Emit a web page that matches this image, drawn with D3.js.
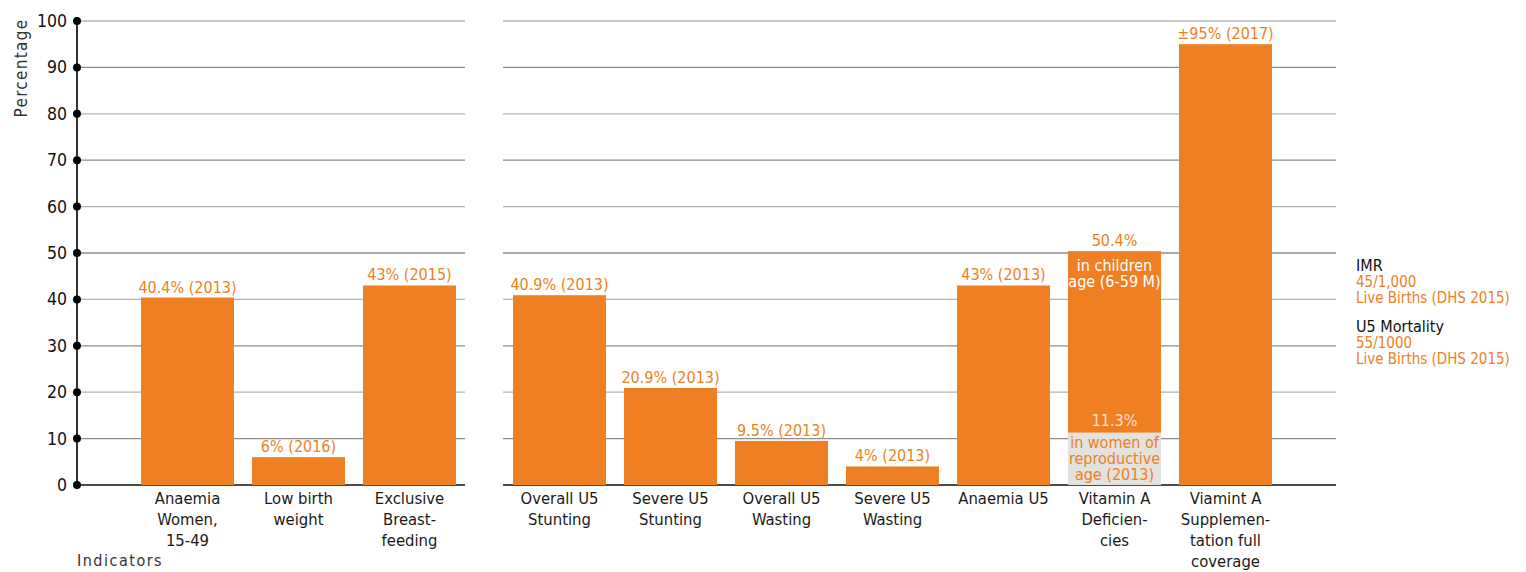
<!DOCTYPE html>
<html>
<head>
<meta charset="utf-8">
<script src="https://cdn.jsdelivr.net/npm/d3@7"></script>
<style>
  body { margin: 0; background: #fff; }
  text { font-family: "DejaVu Sans Condensed", "Liberation Sans Narrow", "Roboto", sans-serif; }
</style>
</head>
<body>
<script>
// women & infants panel
var groupA = ['Anaemia|Women,|15-49', 'Low birth|weight', 'Exclusive|Breast-|feeding'];
var valuesA = [40.4, 6, 43];
var labelsA = ['40.4% (2013)', '6% (2016)', '43% (2015)'];

// under five panel
var groupB = ['Overall U5|Stunting', 'Severe U5|Stunting', 'Overall U5|Wasting', 'Severe U5|Wasting',
  'Anaemia U5', 'Vitamin A|Deficien-|cies', 'Viamint A|Supplemen-|tation full|coverage'];
var valuesB = [40.9, 20.9, 9.5, 4, 43, 50.4, 95];
var labelsB = ['40.9% (2013)', '20.9% (2013)', '9.5% (2013)', '4% (2013)', '43% (2013)', '50.4%', '±95% (2017)'];

// vitamin A deficiency in women, stacked at the bottom of that bar
var vitAWomen = 11.3;

var yTicks = [0, 10, 20, 30, 40, 50, 60, 70, 80, 90, 100];

var notes = [
  {title: 'IMR', lines: ['45/1,000', 'Live Births (DHS 2015)']},
  {title: 'U5 Mortality', lines: ['55/1000', 'Live Births (DHS 2015)']}
];

var orange = '#ee7f22';

var svg = d3.select('body').append('svg')
    .attr('width', 1526)
    .attr('height', 572);

var y = d3.scaleLinear().domain([0, 100]).range([485, 21]);

var xA = d3.scaleBand().domain(groupA).range([132, 465]).paddingInner(0.162).paddingOuter(0.081);
var xB = d3.scaleBand().domain(groupB).range([504, 1281]).paddingInner(0.162).paddingOuter(0.081);

// gridlines
var panels = [[77, 465], [503, 1336]];
panels.forEach(function(p) {
  svg.append('g').selectAll('line').data(yTicks.slice(1)).enter().append('line')
      .attr('x1', p[0])
      .attr('x2', p[1])
      .attr('y1', function(d) { return y(d); })
      .attr('y2', function(d) { return y(d); })
      .attr('stroke', function(d) { return d % 20 ? '#8c8c8c' : '#b4b4b4'; })
      .attr('stroke-width', 1.3);
  svg.append('line')
      .attr('x1', p[0])
      .attr('x2', p[1])
      .attr('y1', y(0))
      .attr('y2', y(0))
      .attr('stroke', '#111')
      .attr('stroke-width', 1.6);
});

function drawBars(scale, cats, vals, labs) {
  var g = svg.append('g');
  g.selectAll('rect').data(cats).enter().append('rect')
      .attr('x', function(d) { return scale(d); })
      .attr('y', function(d, i) { return y(vals[i]); })
      .attr('width', scale.bandwidth())
      .attr('height', function(d, i) { return y(0) - y(vals[i]); })
      .attr('fill', orange);

  g.selectAll('text.val').data(cats).enter().append('text')
      .attr('class', 'val')
      .attr('x', function(d) { return scale(d) + scale.bandwidth() / 2; })
      .attr('y', function(d, i) { return y(vals[i]) - 5; })
      .attr('text-anchor', 'middle')
      .attr('fill', orange)
      .style('font-size', '16px')
      .text(function(d, i) { return labs[i]; });

  cats.forEach(function(c) {
    var t = g.append('text')
        .attr('x', scale(c) + scale.bandwidth() / 2)
        .attr('y', 504)
        .attr('text-anchor', 'middle')
        .attr('fill', '#1a1a1a')
        .style('font-size', '16.5px');
    c.split('|').forEach(function(s, k) {
      t.append('tspan')
          .attr('x', scale(c) + scale.bandwidth() / 2)
          .attr('dy', k ? 21 : 0)
          .text(s);
    });
  });
}

drawBars(xA, groupA, valuesA, labelsA);
drawBars(xB, groupB, valuesB, labelsB);

// vitamin A split
var vCat = groupB[5];
var vx = xB(vCat), vw = xB.bandwidth(), vc = vx + vw / 2;
svg.append('rect')
    .attr('x', vx)
    .attr('y', y(vitAWomen))
    .attr('width', vw)
    .attr('height', y(0) - y(vitAWomen))
    .attr('fill', '#e4e2dc');

function block(lines, top, color) {
  var t = svg.append('text')
      .attr('x', vc)
      .attr('y', top)
      .attr('text-anchor', 'middle')
      .attr('fill', color)
      .style('font-size', '16px');
  lines.forEach(function(s, k) {
    t.append('tspan').attr('x', vc).attr('dy', k ? 16 : 0).text(s);
  });
}
block(['in children', 'age (6-59 M)'], y(valuesB[5]) + 20, '#fff');
block([vitAWomen + '%'], y(vitAWomen) - 7, '#f8e0cc');
block(['in women of', 'reproductive', 'age (2013)'], y(vitAWomen) + 15, orange);

// y axis
svg.append('line')
    .attr('x1', 77)
    .attr('x2', 77)
    .attr('y1', y(100))
    .attr('y2', y(0))
    .attr('stroke', '#333')
    .attr('stroke-width', 2);

svg.append('g').selectAll('circle').data(yTicks).enter().append('circle')
    .attr('cx', 77)
    .attr('cy', function(d) { return y(d); })
    .attr('r', 4)
    .attr('fill', '#000');

svg.append('g').selectAll('text').data(yTicks).enter().append('text')
    .attr('x', 67)
    .attr('y', function(d) { return y(d) + 6; })
    .attr('text-anchor', 'end')
    .attr('fill', '#111')
    .style('font-size', '17.5px')
    .text(function(d) { return d; });

svg.append('text')
    .attr('transform', 'translate(27,68) rotate(-90)')
    .attr('text-anchor', 'middle')
    .attr('fill', '#333')
    .style('font-size', '17px')
    .style('letter-spacing', '1.3px')
    .text('Percentage');

svg.append('text')
    .attr('x', 77)
    .attr('y', 566)
    .attr('fill', '#333')
    .style('font-size', '16px')
    .style('letter-spacing', '1.5px')
    .text('Indicators');

// right notes
notes.forEach(function(n, i) {
  var top = 271 + i * 61;
  svg.append('text')
      .attr('x', 1356)
      .attr('y', top)
      .attr('fill', '#111')
      .style('font-size', '16px')
      .text(n.title);
  n.lines.forEach(function(s, k) {
    svg.append('text')
        .attr('x', 1356)
        .attr('y', top + 16 + k * 15.5)
        .attr('fill', orange)
        .style('font-size', '15px')
        .text(s);
  });
});
</script>
</body>
</html>
